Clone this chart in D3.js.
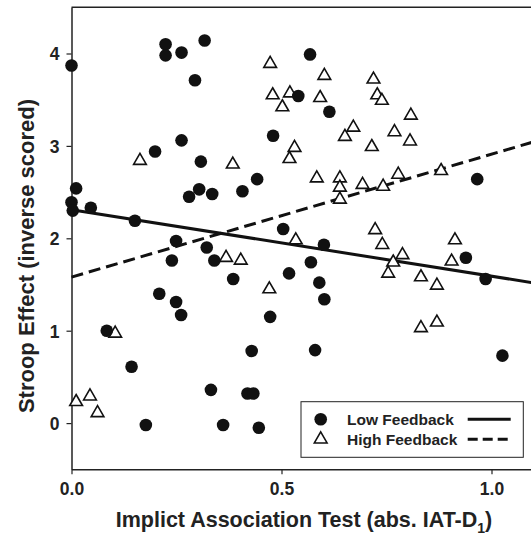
<!DOCTYPE html>
<html>
<head>
<meta charset="utf-8">
<script src="https://cdn.jsdelivr.net/npm/d3@7"></script>
<style>
  body { margin: 0; background: #fff; }
  svg { display: block; font-family: "Liberation Sans", Arial, sans-serif; font-weight: bold; }
</style>
</head>
<body>
<div id="chart"></div>
<script>
// Low Feedback (filled circles): [IAT, Stroop]
const lowFeedback = [
  [0.00, 3.87], [0.224, 4.10], [0.224, 3.98], [0.262, 4.01], [0.317, 4.14],
  [0.294, 3.71], [0.568, 3.99], [0.540, 3.54], [0.614, 3.37], [0.199, 2.94],
  [0.262, 3.06], [0.480, 3.11], [0.308, 2.83], [0.442, 2.64], [0.304, 2.53],
  [0.280, 2.45], [0.335, 2.48], [0.407, 2.51], [0.011, 2.54], [0.00, 2.39],
  [0.003, 2.30], [0.046, 2.33], [0.151, 2.19], [0.249, 1.97], [0.239, 1.76],
  [0.322, 1.90], [0.340, 1.76], [0.385, 1.56], [0.504, 2.10], [0.601, 1.93],
  [0.570, 1.74], [0.518, 1.62], [0.590, 1.52], [0.602, 1.34], [0.209, 1.40],
  [0.249, 1.31], [0.261, 1.17], [0.084, 1.00], [0.473, 1.15], [0.143, 0.61],
  [0.429, 0.78], [0.580, 0.79], [0.332, 0.36], [0.419, 0.32], [0.433, 0.32],
  [0.361, -0.02], [0.446, -0.05], [0.177, -0.02], [0.966, 2.64], [0.939, 1.79],
  [0.986, 1.56], [1.026, 0.73]
];

// High Feedback (open triangles): [IAT, Stroop]
const highFeedback = [
  [0.163, 2.84], [0.473, 3.89], [0.602, 3.76], [0.479, 3.55], [0.520, 3.57],
  [0.502, 3.42], [0.592, 3.52], [0.531, 2.98], [0.519, 2.86], [0.651, 3.10],
  [0.384, 2.80], [0.584, 2.65], [0.639, 2.65], [0.639, 2.55], [0.639, 2.42],
  [0.719, 3.72], [0.728, 3.55], [0.739, 3.49], [0.808, 3.33], [0.671, 3.20],
  [0.769, 3.15], [0.806, 3.05], [0.715, 2.99], [0.778, 2.69], [0.880, 2.73],
  [0.693, 2.58], [0.742, 2.56], [0.534, 1.98], [0.368, 1.79], [0.403, 1.76],
  [0.471, 1.45], [0.723, 2.09], [0.740, 1.93], [0.788, 1.82], [0.766, 1.74],
  [0.754, 1.62], [0.913, 1.98], [0.905, 1.75], [0.832, 1.58], [0.870, 1.49],
  [0.832, 1.03], [0.870, 1.09], [0.104, 0.97], [0.011, 0.23], [0.044, 0.29],
  [0.062, 0.11]
];

// regression fits: [intercept, slope]
const lowFit = [2.31, -0.72];
const highFit = [1.58, 1.33];

const xTicks = [0, 0.5, 1.0];
const yTicks = [0, 1, 2, 3, 4];
const legendLabels = ["Low Feedback", "High Feedback"];

const width = 531, height = 535;
const svg = d3.select("#chart").append("svg")
  .attr("width", width)
  .attr("height", height);

const x = d3.scaleLinear().domain([0, 1.1]).range([71.5, 533.5]);
const y = d3.scaleLinear().domain([-0.5, 4.5]).range([469.3, 7.3]);

// top frame line
svg.append("line")
  .attr("x1", x(0)).attr("x2", x(1.1))
  .attr("y1", y(4.5)).attr("y2", y(4.5))
  .attr("stroke", "#222").attr("stroke-width", 1.5);

const xAxis = svg.append("g")
  .attr("transform", `translate(0,${y(-0.5)})`)
  .call(d3.axisBottom(x).tickValues(xTicks).tickFormat(d3.format(".1f")).tickSize(5).tickSizeOuter(0).tickPadding(8));

const yAxis = svg.append("g")
  .attr("transform", `translate(${x(0)},0)`)
  .call(d3.axisLeft(y).tickValues(yTicks).tickFormat(d3.format("d")).tickSize(5).tickSizeOuter(0).tickPadding(7));

[xAxis, yAxis].forEach(g => {
  g.select(".domain").attr("stroke", "#222").attr("stroke-width", 1.5);
  g.selectAll(".tick line").attr("stroke", "#222").attr("stroke-width", 1.2);
  g.selectAll("text")
    .attr("font-family", "'Liberation Sans', Arial, sans-serif")
    .attr("font-weight", "bold")
    .attr("font-size", 17.5)
    .attr("fill", "#222");
});
yAxis.selectAll("text").attr("dy", "0.36em");

// axis titles
const xt = svg.append("text")
  .attr("x", 304).attr("y", 527)
  .attr("text-anchor", "middle")
  .attr("font-size", 21.5)
  .attr("fill", "#222");
xt.append("tspan").text("Implict Association Test (abs. IAT-D");
xt.append("tspan").attr("font-size", 14).attr("dy", 6).text("1");
xt.append("tspan").attr("dy", -6).text(")");

svg.append("text")
  .attr("transform", "translate(34,256) rotate(-90)")
  .attr("text-anchor", "middle")
  .attr("font-size", 22)
  .attr("fill", "#222")
  .text("Stroop Effect (inverse scored)");

// fit lines
const fitLine = fit => [[0, fit[0]], [1.1, fit[0] + fit[1] * 1.1]];
const line = d3.line().x(d => x(d[0])).y(d => y(d[1]));

svg.append("path")
  .attr("d", line(fitLine(lowFit)))
  .attr("fill", "none").attr("stroke", "#111").attr("stroke-width", 3);

svg.append("path")
  .attr("d", line(fitLine(highFit)))
  .attr("fill", "none").attr("stroke", "#111").attr("stroke-width", 3)
  .attr("stroke-dasharray", "12,6");

// triangles
const tri = d3.symbol().type(d3.symbolTriangle).size(70);
svg.append("g")
  .selectAll("path")
  .data(highFeedback)
  .join("path")
    .attr("transform", d => `translate(${x(d[0])},${y(d[1])})`)
    .attr("d", tri)
    .attr("fill", "#fff")
    .attr("stroke", "#111")
    .attr("stroke-width", 1.6);

// circles
svg.append("g")
  .selectAll("circle")
  .data(lowFeedback)
  .join("circle")
    .attr("cx", d => x(d[0]))
    .attr("cy", d => y(d[1]))
    .attr("r", 6.3)
    .attr("fill", "#111");

// legend
const legend = svg.append("g");
legend.append("rect")
  .attr("x", 301).attr("y", 401.7)
  .attr("width", 222.3).attr("height", 55.6)
  .attr("fill", "#fff").attr("stroke", "#222").attr("stroke-width", 1);

legendLabels.forEach((lab, i) => {
  const cy = 419.3 + i * 20;
  if (i === 0) {
    legend.append("circle").attr("cx", 320.7).attr("cy", cy).attr("r", 6.3).attr("fill", "#111");
  } else {
    legend.append("path").attr("transform", `translate(320.7,${cy})`).attr("d", tri)
      .attr("fill", "#fff").attr("stroke", "#111").attr("stroke-width", 1.6);
  }
  legend.append("text")
    .attr("x", 347).attr("y", cy + 5.5)
    .attr("font-size", 15.5)
    .attr("fill", "#222")
    .text(lab);
  legend.append("line")
    .attr("x1", 467.7).attr("x2", 510.7)
    .attr("y1", cy).attr("y2", cy)
    .attr("stroke", "#111").attr("stroke-width", 3)
    .attr("stroke-dasharray", i === 0 ? null : "10,5");
});
</script>
</body>
</html>
